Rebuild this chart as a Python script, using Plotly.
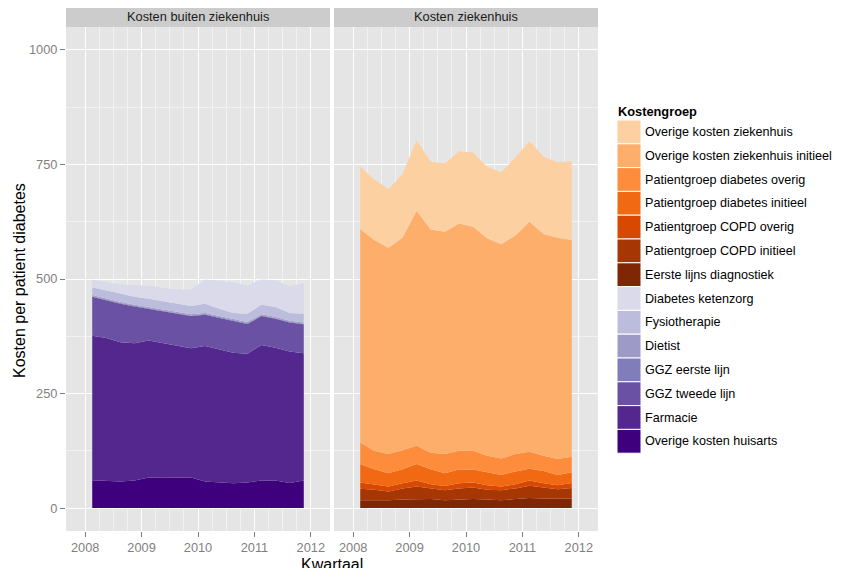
import plotly.graph_objects as go

# Kwartalen (midden van elk kwartaal)
kwartaal = [2008.125, 2008.375, 2008.625, 2008.875,
            2009.125, 2009.375, 2009.625, 2009.875,
            2010.125, 2010.375, 2010.625, 2010.875,
            2011.125, 2011.375, 2011.625, 2011.875]

# Kosten buiten ziekenhuis (van onder naar boven gestapeld)
huisarts = [61, 59, 58, 60, 67, 66, 66, 67, 58, 56, 54, 56, 60, 60, 55, 60]
farmacie = [315, 312, 304, 300, 299, 294, 288, 282, 296, 291, 285, 281, 296, 290, 287, 278]
ggz_tweede = [85, 82, 84, 80, 69, 70, 70, 70, 68, 68, 69, 65, 63, 63, 63, 63]
ggz_eerste = [1.5, 1.5, 1.5, 1.5, 1.5, 1.5, 1.5, 1.5, 1.5, 1.5, 1.5, 1.5, 1.5, 1.5, 1.5, 1.5]
dietist = [2.5, 2.5, 2.5, 2.5, 2.5, 2.5, 2.5, 2.5, 2.5, 2.5, 2.5, 2.5, 2.5, 2.5, 2.5, 2.5]
fysio = [17, 18, 18, 17, 18, 18, 18, 18, 20, 16, 14, 18, 21, 22, 17, 19]
ketenzorg = [17, 18, 20, 26, 28, 29, 31, 36, 53, 61, 67, 62, 55, 58, 58, 67]

# Kosten ziekenhuis (van onder naar boven gestapeld)
eerste_lijns = [17, 17, 17, 19, 20, 20, 17, 19, 20, 19, 17, 20, 22, 21, 21, 21]
copd_init = [25, 23, 19, 24, 27, 23, 22, 24, 25, 21, 22, 23, 27, 24, 20, 23]
copd_overig = [14, 11, 11, 11, 13, 9, 9, 11, 11, 10, 8, 9, 11, 9, 9, 11]
diab_init = [40, 34, 29, 31, 36, 33, 28, 30, 28, 28, 25, 28, 26, 27, 22, 23]
diab_overig = [47, 40, 42, 41, 40, 36, 42, 41, 41, 36, 36, 38, 37, 33, 35, 34]
overig_init = [466, 460, 450, 464, 513, 487, 485, 496, 489, 475, 468, 477, 502, 484, 483, 473]
overig = [136, 132, 128, 139, 154, 148, 149, 158, 162, 156, 157, 170, 176, 169, 165, 172]

buiten_namen = ['Overige kosten huisarts', 'Farmacie', 'GGZ tweede lijn', 'GGZ eerste lijn',
                'Dietist', 'Fysiotherapie', 'Diabetes ketenzorg']
buiten_waarden = [huisarts, farmacie, ggz_tweede, ggz_eerste, dietist, fysio, ketenzorg]
buiten_kleuren = ['#3f007d', '#54278f', '#6a51a3', '#807dba', '#9e9ac8', '#bcbddc', '#dadaeb']

zkh_namen = ['Eerste lijns diagnostiek', 'Patientgroep COPD initieel', 'Patientgroep COPD overig',
             'Patientgroep diabetes initieel', 'Patientgroep diabetes overig',
             'Overige kosten ziekenhuis initieel', 'Overige kosten ziekenhuis']
zkh_waarden = [eerste_lijns, copd_init, copd_overig, diab_init, diab_overig, overig_init, overig]
zkh_kleuren = ['#7f2704', '#a63603', '#d94801', '#f16913', '#fd8d3c', '#fdae6b', '#fdd0a2']

facetten = ['Kosten buiten ziekenhuis', 'Kosten ziekenhuis']
x_ticks = [2008, 2009, 2010, 2011, 2012]
x_minor = [2008.25, 2008.5, 2008.75, 2009.25, 2009.5, 2009.75,
           2010.25, 2010.5, 2010.75, 2011.25, 2011.5, 2011.75]
y_ticks = [0, 250, 500, 750, 1000]
y_minor = [125, 375, 625, 875]

FONT = 'Liberation Sans, Arial, sans-serif'

fig = go.Figure()
for namen, waarden, kleuren, xa, ya, grp in [
        (buiten_namen, buiten_waarden, buiten_kleuren, 'x', 'y', 'buiten'),
        (zkh_namen, zkh_waarden, zkh_kleuren, 'x2', 'y2', 'zkh')]:
    for naam, w, kleur in zip(namen, waarden, kleuren):
        fig.add_trace(go.Scatter(
            x=kwartaal, y=w, name=naam, xaxis=xa, yaxis=ya,
            stackgroup=grp, mode='lines', line=dict(width=0, color=kleur),
            fillcolor=kleur, showlegend=False,
            hovertemplate=naam + ': %{y:.0f}<extra></extra>'
        ))

# the page body has an 8px margin: work in page pixels, convert to figure paper coords
OFF = 8
W, H = 844 - OFF, 568 - OFF
L, R, T, B = 66 - OFF, 598 - OFF, 0, 531 - OFF
def px(x):
    return (x - OFF - L) / (R - L)
def py(y):
    return (B - (y - OFF)) / (B - T)

panel_top = py(27)
dom_links = [0, px(330)]
dom_rechts = [px(334), 1]

axis_common = dict(
    showline=False, zeroline=False,
    gridcolor='white', gridwidth=1.4,
    ticks='outside', ticklen=5, tickwidth=1, tickcolor='#7f7f7f',
    tickfont=dict(family=FONT, size=12.8, color='#7f7f7f'),
)
minor_x = dict(tickvals=x_minor, showgrid=True, gridcolor='#f2f2f2', gridwidth=0.7)
minor_y = dict(tickvals=y_minor, showgrid=True, gridcolor='#f2f2f2', gridwidth=0.7)
fig.update_layout(
    xaxis=dict(domain=dom_links, range=[2007.66, 2012.34], tickvals=x_ticks,
               minor=minor_x, anchor='y', **axis_common),
    xaxis2=dict(domain=dom_rechts, range=[2007.66, 2012.34], tickvals=x_ticks,
                minor=minor_x, anchor='y2', **axis_common),
    yaxis=dict(domain=[0, panel_top], range=[-50, 1050], tickvals=y_ticks,
               minor=minor_y, anchor='x', **axis_common),
    yaxis2=dict(domain=[0, panel_top], range=[-50, 1050], tickvals=y_ticks,
                minor=minor_y, anchor='x2', matches='y', showticklabels=False,
                showline=False, zeroline=False, gridcolor='white', gridwidth=1.4, ticks=''),
)

shapes = []
annotations = []
# panel backgrounds and strips
for dom, titel in zip([dom_links, dom_rechts], facetten):
    shapes.append(dict(type='rect', xref='paper', yref='paper', x0=dom[0], x1=dom[1],
                       y0=0, y1=panel_top, fillcolor='#e5e5e5', line=dict(width=0), layer='below'))
    shapes.append(dict(type='rect', xref='paper', yref='paper', x0=dom[0], x1=dom[1],
                       y0=panel_top, y1=1, fillcolor='#cccccc', line=dict(width=0)))
    annotations.append(dict(text=titel, xref='paper', yref='paper', x=(dom[0] + dom[1]) / 2,
                            y=py(17), showarrow=False, xanchor='center', yanchor='middle',
                            font=dict(family=FONT, size=12.8, color='#1a1a1a')))

# axis titles
annotations.append(dict(text='Kosten per patient diabetes', xref='paper', yref='paper',
                        x=px(19), y=py(281), textangle=-90, showarrow=False,
                        xanchor='center', yanchor='middle', font=dict(family=FONT, size=16, color='black')))
annotations.append(dict(text='Kwartaal', xref='paper', yref='paper', x=px(332), y=py(554),
                        showarrow=False, xanchor='center', yanchor='top',
                        font=dict(family=FONT, size=16, color='black')))

# legend (ggplot style blocks)
leg_namen = list(reversed(zkh_namen)) + list(reversed(buiten_namen))
leg_kleuren = list(reversed(zkh_kleuren)) + list(reversed(buiten_kleuren))
annotations.append(dict(text='<b>Kostengroep</b>', xref='paper', yref='paper', x=px(616), y=py(111),
                        showarrow=False, xanchor='left', yanchor='middle',
                        font=dict(family=FONT, size=12.8, color='black')))
key_top, key_h = 120, 23.8
for i, (naam, kleur) in enumerate(zip(leg_namen, leg_kleuren)):
    y0 = key_top + i * key_h
    shapes.append(dict(type='rect', xref='paper', yref='paper', x0=px(617), x1=px(641),
                       y0=py(y0 + key_h), y1=py(y0), fillcolor=kleur, line=dict(color='white', width=1)))
    annotations.append(dict(text=naam, xref='paper', yref='paper', x=px(643), y=py(y0 + key_h / 2),
                            showarrow=False, xanchor='left', yanchor='middle',
                            font=dict(family=FONT, size=12.6, color='black')))

fig.update_layout(
    shapes=shapes, annotations=annotations,
    width=W, height=H,
    margin=dict(l=L, r=W - R, t=T, b=H - B),
    paper_bgcolor='white', plot_bgcolor='#e5e5e5',
    showlegend=False,
    font=dict(family=FONT),
)

fig.write_html('out.html')
